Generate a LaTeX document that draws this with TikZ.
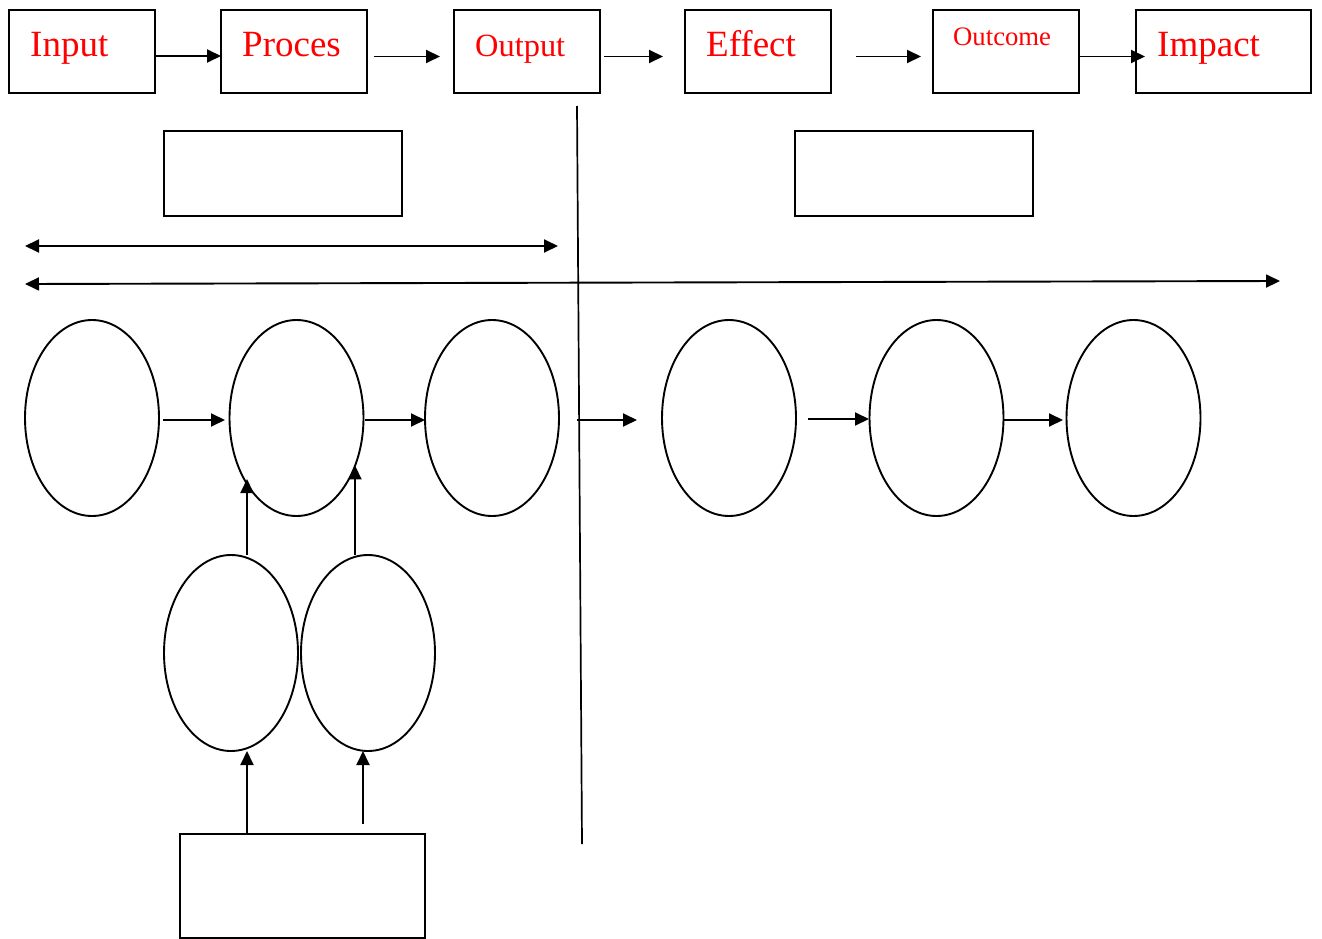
\documentclass[tikz,border=0pt]{standalone}
\usepackage{fontspec}
\setmainfont{Liberation Serif}
\usetikzlibrary{arrows.meta,shapes.geometric}
\begin{document}
\begin{tikzpicture}[x=1pt,y=-1pt,
  box/.style={draw,line width=1.9pt,rectangle,inner sep=0pt,outer sep=0pt},
  oval/.style={draw,line width=1.9pt,ellipse,inner sep=0pt,outer sep=0pt,minimum width=134pt,minimum height=196pt},
  arr/.style={line width=1.9pt,-{Triangle[length=14pt,width=13pt]}},
  darr/.style={line width=1.9pt,{Triangle[length=14pt,width=13pt]}-{Triangle[length=14pt,width=13pt]}},
  plain/.style={line width=1.7pt},
  lbl/.style={text=red,anchor=base west,inner sep=0pt},
  big/.style={font=\fontsize{37}{40}\selectfont},
  mid/.style={font=\fontsize{32.4}{36}\selectfont},
  small/.style={font=\fontsize{26.7}{30}\selectfont}]
\useasboundingbox (0,0) rectangle (1322,939);
% top boxes
\node[box,minimum width=146pt,minimum height=83pt] (in) at (82,51.5) {};
\node[box,minimum width=146pt,minimum height=83pt] (pr) at (294,51.5) {};
\node[box,minimum width=146pt,minimum height=83pt] (ou) at (527,51.5) {};
\node[box,minimum width=146pt,minimum height=83pt] (ef) at (758,51.5) {};
\node[box,minimum width=146pt,minimum height=83pt] (oc) at (1006,51.5) {};
\node[box,minimum width=175pt,minimum height=83pt] (im) at (1223.5,51.5) {};
% labels
\node[lbl,big] (tin) at (30,57) {Input};
\node[lbl,big] (tpr) at (242,57) {Proces};
\node[lbl,mid] (tou) at (475,57) {Output};
\node[lbl,big] (tef) at (706,57) {Effect};
\node[lbl,small] (toc) at (953,46) {Outcome};
\node[lbl,big] (tim) at (1157,57) {Impact};
% top arrows
\draw[arr] ([yshift=-4.5pt]in.east) -- ([yshift=-4.5pt]pr.west);
\draw[arr] ([xshift=7pt,yshift=-5pt]pr.east) -- ([xshift=-14pt,yshift=-5pt]ou.west);
\draw[arr] ([xshift=4pt,yshift=-5pt]ou.east) -- ([xshift=-22pt,yshift=-5pt]ef.west);
\draw[arr] ([xshift=25pt,yshift=-5pt]ef.east) -- ([xshift=-12pt,yshift=-5pt]oc.west);
\draw[arr] ([yshift=-5pt]oc.east) -- ([xshift=9pt,yshift=-5pt]im.west);
% middle boxes
\node[box,minimum width=238pt,minimum height=85pt] (m1) at (283,173.5) {};
\node[box,minimum width=238pt,minimum height=85pt] (m2) at (914,173.5) {};
% horizontal double arrows
\coordinate (h1a) at (25,246);
\coordinate (h1b) at (558,246);
\coordinate (h2a) at (25,284);
\coordinate (h2b) at (1280,281);
\draw[darr] (h1a) -- (h1b);
\draw[darr] (h2a) -- (h2b);
% divider
\coordinate (dt) at (577,106);
\coordinate (db) at (582,844);
\draw[plain] (dt) -- (db);
% ellipses
\node[oval] (e1) at (92,418) {};
\node[oval] (e2) at (296.5,418) {};
\node[oval] (e3) at (492,418) {};
\node[oval] (e4) at (729,418) {};
\node[oval] (e5) at (936.5,418) {};
\node[oval] (e6) at (1133.5,418) {};
\node[oval] (e7) at (231,653) {};
\node[oval] (e8) at (368,653) {};
% row arrows
\draw[arr] ([xshift=4pt,yshift=-2pt]e1.east) -- ([xshift=-4.5pt,yshift=-2pt]e2.west);
\draw[arr] ([xshift=1.5pt,yshift=-2pt]e2.east) -- ([yshift=-2pt]e3.west);
\draw[arr] ([xshift=18pt,yshift=-2pt]e3.east) -- ([xshift=-25pt,yshift=-2pt]e4.west);
\draw[arr] ([xshift=12pt,yshift=-1pt]e4.east) -- ([xshift=-0.5pt,yshift=-1pt]e5.west);
\draw[arr] ([xshift=-0.5pt,yshift=-2pt]e5.east) -- ([xshift=-3.5pt,yshift=-2pt]e6.west);
% vertical arrows into e2
\draw[arr] ([xshift=16pt]e7.north) -- ++(0,-76);
\draw[arr] ([xshift=-13pt]e8.north) -- ([xshift=-13pt]e8.north |- e2.321);
% bottom box
\node[box,minimum width=245pt,minimum height=104pt] (bb) at (302.5,886) {};
\draw[arr] ([xshift=-55.5pt]bb.north) -- ([xshift=16pt]e7.south);
\draw[arr] ([xshift=60.5pt,yshift=10pt]bb.north) -- ([xshift=-5pt]e8.south);
\end{tikzpicture}
\end{document}
